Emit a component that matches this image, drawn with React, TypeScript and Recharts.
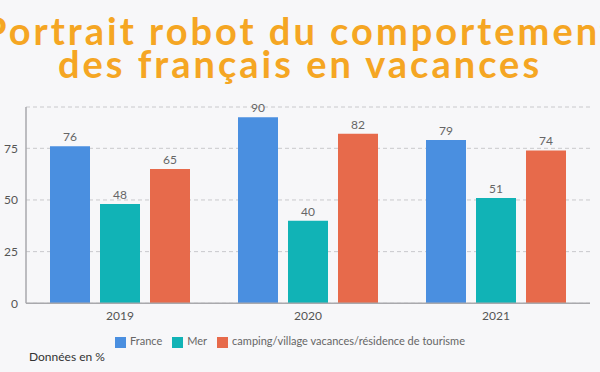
import { BarChart, Bar, XAxis, YAxis, CartesianGrid, Legend, LabelList } from "recharts";

const years = ["2019", "2020", "2021"];
const france = [76, 90, 79];
const mer = [48, 40, 51];
const camping = [65, 82, 74];
const yTicks = [0, 25, 50, 75];

const data = years.map((year, i) => ({
  year,
  france: france[i],
  mer: mer[i],
  camping: camping[i],
}));

const FONT = "Lato, 'Open Sans', sans-serif";

export default function App() {
  return (
    <div
      style={{
        position: "absolute",
        left: 0,
        top: 0,
        width: 600,
        height: 372,
        overflow: "hidden",
        background: "#f7f7f9",
        fontFamily: FONT,
      }}
    >
      <div
        style={{
          position: "absolute",
          left: -100,
          width: 800,
          top: 14,
          textAlign: "center",
          color: "#f5a623",
          fontWeight: 700,
          fontSize: 38,
          letterSpacing: 3,
          lineHeight: "33px",
          whiteSpace: "nowrap",
        }}
      >
        Portrait robot du comportement
        <br />
        des français en vacances
      </div>
      <BarChart
        width={600}
        height={372}
        data={data}
        margin={{ top: 107, right: 10, left: 0, bottom: 24 }}
        barCategoryGap={24}
        barGap={10}
        style={{ position: "absolute", left: 0, top: 0 }}
      >
        <CartesianGrid vertical={false} stroke="#c9c9cc" strokeDasharray="4 3" />
        <XAxis
          dataKey="year"
          height={31}
          tickLine={false}
          axisLine={{ stroke: "#a9a9ad", strokeWidth: 1.5 }}
          tick={{ fill: "#555", fontSize: 12, fontFamily: FONT }}
        />
        <YAxis
          width={26}
          domain={[0, 95]}
          ticks={yTicks}
          tickLine={false}
          axisLine={{ stroke: "#a9a9ad", strokeWidth: 1.5 }}
          tick={{ fill: "#555", fontSize: 12, fontFamily: FONT }}
        />
        <Legend
          verticalAlign="bottom"
          iconType="square"
          iconSize={11}
          wrapperStyle={{ fontSize: 11, fontFamily: FONT, color: "#666" }}
          formatter={(value) => <span style={{ color: "#666" }}>{value}</span>}
        />
        <Bar dataKey="france" name="France" fill="#4a8fe0" isAnimationActive={false}>
          <LabelList dataKey="france" position="top" fill="#666" fontSize={12} fontFamily={FONT} />
        </Bar>
        <Bar dataKey="mer" name="Mer" fill="#11b3b6" isAnimationActive={false}>
          <LabelList dataKey="mer" position="top" fill="#666" fontSize={12} fontFamily={FONT} />
        </Bar>
        <Bar
          dataKey="camping"
          name="camping/village vacances/résidence de tourisme"
          fill="#e76a4b"
          isAnimationActive={false}
        >
          <LabelList dataKey="camping" position="top" fill="#666" fontSize={12} fontFamily={FONT} />
        </Bar>
      </BarChart>
      <div
        style={{
          position: "absolute",
          left: 29,
          top: 349,
          fontSize: 12,
          color: "#333",
        }}
      >
        Données en %
      </div>
    </div>
  );
}
